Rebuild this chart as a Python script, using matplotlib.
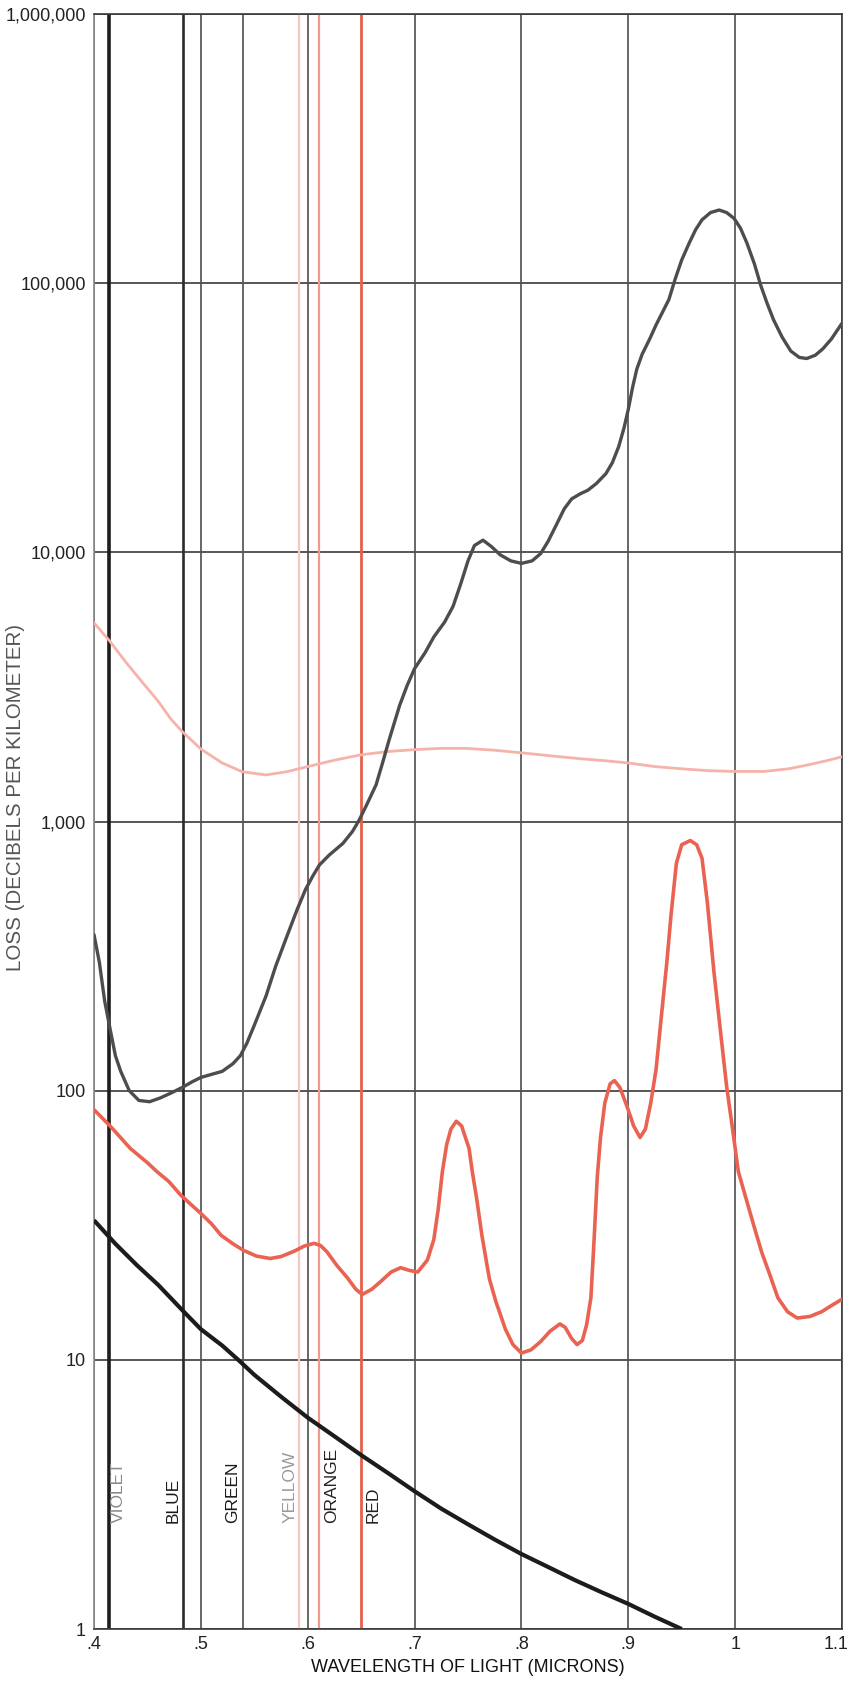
import matplotlib
matplotlib.use("Agg")
import matplotlib.pyplot as plt
import matplotlib.transforms as mtransforms
from matplotlib.ticker import FixedLocator, FixedFormatter

plt.rcParams['font.family'] = ['Liberation Sans', 'DejaVu Sans']

# ---- data ----
# dark gray curve (highest at the red end)
gray_x = [0.400, 0.405, 0.410, 0.415, 0.420, 0.425, 0.433, 0.442, 0.452, 0.462,
          0.472, 0.483, 0.492, 0.500, 0.510, 0.520, 0.530, 0.537, 0.543, 0.550,
          0.561, 0.570, 0.580, 0.590, 0.598, 0.605, 0.611, 0.620, 0.633, 0.642,
          0.648, 0.655, 0.664, 0.670, 0.676, 0.686, 0.693, 0.700, 0.710, 0.718,
          0.728, 0.736, 0.743, 0.750, 0.756, 0.764, 0.772, 0.780, 0.790, 0.800,
          0.810, 0.818, 0.825, 0.832, 0.840, 0.847, 0.855, 0.862, 0.870, 0.879,
          0.885, 0.891, 0.896, 0.900, 0.904, 0.908, 0.913, 0.920, 0.926, 0.932,
          0.938, 0.944, 0.950, 0.957, 0.963, 0.969, 0.977, 0.985, 0.992, 0.999,
          1.005, 1.011, 1.018, 1.024, 1.030, 1.036, 1.044, 1.052, 1.060, 1.067,
          1.075, 1.082, 1.090, 1.100]
gray_y = [380, 300, 215, 170, 135, 118, 100, 92, 91, 94,
          98, 103, 108, 112, 115, 118, 126, 135, 150, 175,
          225, 290, 370, 470, 560, 630, 690, 750, 830, 920,
          1010, 1150, 1370, 1650, 2000, 2700, 3200, 3700, 4250, 4850,
          5500, 6300, 7600, 9300, 10600, 11100, 10500, 9800, 9300, 9100,
          9300, 9900, 11000, 12500, 14500, 15800, 16500, 17000, 18000, 19600,
          21500, 24700, 29000, 34000, 41000, 48000, 54500, 62000, 70000, 78000,
          87000, 104000, 122000, 141000, 158000, 172000, 183000, 187000, 183000, 174000,
          160000, 141000, 118000, 98000, 84000, 73000, 63000, 56000, 53000, 52500,
          54000, 57000, 62000, 71000]

# light pink curve
pink_x = [0.400, 0.414, 0.430, 0.445, 0.460, 0.472, 0.483, 0.500, 0.520, 0.539,
          0.561, 0.580, 0.600, 0.625, 0.650, 0.675, 0.700, 0.725, 0.748, 0.775,
          0.800, 0.830, 0.856, 0.880, 0.900, 0.925, 0.950, 0.975, 1.000, 1.027,
          1.050, 1.067, 1.085, 1.100]
pink_y = [5470, 4720, 3900, 3300, 2800, 2400, 2150, 1860, 1650, 1530,
          1490, 1530, 1600, 1690, 1770, 1820, 1850, 1870, 1870, 1840,
          1800, 1750, 1710, 1680, 1650, 1600, 1570, 1545, 1535, 1535,
          1570, 1620, 1680, 1740]

# red curve with absorption peaks
red_x = [0.400, 0.415, 0.434, 0.450, 0.459, 0.470, 0.481, 0.490, 0.500, 0.510,
         0.519, 0.530, 0.540, 0.552, 0.565, 0.575, 0.587, 0.597, 0.606, 0.612,
         0.618, 0.627, 0.637, 0.645, 0.651, 0.660, 0.668, 0.678, 0.687, 0.695,
         0.703, 0.712, 0.718, 0.722, 0.726, 0.730, 0.734, 0.739, 0.744, 0.751,
         0.754, 0.758, 0.763, 0.770, 0.776, 0.785, 0.792, 0.800, 0.809, 0.818,
         0.827, 0.836, 0.841, 0.847, 0.852, 0.857, 0.861, 0.865, 0.868, 0.871,
         0.874, 0.878, 0.883, 0.887, 0.892, 0.899, 0.905, 0.911, 0.916, 0.921,
         0.926, 0.931, 0.936, 0.940, 0.945, 0.950, 0.958, 0.964, 0.969, 0.974,
         0.980, 0.986, 0.992, 0.998, 1.003, 1.010, 1.018, 1.025, 1.031, 1.040,
         1.049, 1.058, 1.070, 1.081, 1.090, 1.100]
red_y = [85, 74, 61, 54, 50, 46, 41, 38, 35, 32,
         29, 27, 25.5, 24.3, 23.8, 24.2, 25.3, 26.5, 27.1, 26.6,
         25.2, 22.5, 20.2, 18.3, 17.5, 18.3, 19.5, 21.2, 22.0, 21.5,
         21.2, 23.5, 28, 36, 50, 63, 72, 77, 74, 61,
         50, 40, 29, 20, 16.5, 13, 11.4, 10.6, 10.9, 11.7,
         12.8, 13.6, 13.2, 12.0, 11.4, 11.8, 13.5, 17, 28, 48,
         67, 90, 106, 109, 103, 87, 74, 67, 72, 90,
         120, 190, 298, 450, 700, 820, 850, 820, 730, 500,
         280, 170, 104, 70, 50, 40, 31, 25, 21.5, 17,
         15.1, 14.3, 14.5, 15.1, 15.9, 16.8]

# black scattering curve
black_x = [0.400, 0.420, 0.440, 0.460, 0.484, 0.500, 0.520, 0.535, 0.550, 0.575,
           0.600, 0.625, 0.651, 0.675, 0.700, 0.725, 0.750, 0.775, 0.800, 0.825,
           0.850, 0.875, 0.900, 0.925, 0.950]
black_y = [33, 27, 22.5, 19, 15.1, 13, 11.3, 10, 8.8, 7.3,
           6.1, 5.2, 4.4, 3.8, 3.25, 2.8, 2.45, 2.15, 1.9, 1.7,
           1.52, 1.37, 1.24, 1.11, 1.0]

# spectral colour marker lines (microns)
band_names = ["VIOLET", "BLUE", "GREEN", "YELLOW", "ORANGE", "RED"]
band_x = [0.414, 0.483, 0.539, 0.592, 0.611, 0.650]

y_ticks = [1, 10, 100, 1000, 10000, 100000, 1000000]
y_labels = ["1", "10", "100", "1,000", "10,000", "100,000", "1,000,000"]
x_ticks = [0.4, 0.5, 0.6, 0.7, 0.8, 0.9, 1.0, 1.1]
x_labels = [".4", ".5", ".6", ".7", ".8", ".9", "1", "1.1"]

# ---- styles ----
band_style = {
    "VIOLET": dict(color="#1e1e1e", lw=2.6, text="#8a8a8a", dx=0.0085),
    "BLUE":   dict(color="#2a2a2a", lw=1.9, text="#1a1a1a", dx=-0.0085),
    "GREEN":  dict(color="#5a5a5a", lw=1.3, text="#1a1a1a", dx=-0.0095),
    "YELLOW": dict(color="#f6c8c0", lw=1.6, text="#9a9a9a", dx=-0.0085),
    "ORANGE": dict(color="#f0988c", lw=1.6, text="#222222", dx=0.0115),
    "RED":    dict(color="#e6604c", lw=2.0, text="#222222", dx=0.0115),
}

fig = plt.figure(figsize=(8.5, 16.89), dpi=100)
ax = fig.add_axes([0.1106, 0.0355, 0.8800, 0.9562])

ax.set_yscale("log")
ax.set_xlim(0.4, 1.1)
ax.set_ylim(1, 1000000)

# grid
for yv in y_ticks:
    ax.axhline(yv, color="#3a3a3a", lw=1.2, zorder=1)
for xv in x_ticks:
    ax.axvline(xv, color="#4e4e4e", lw=1.2, zorder=1)

for name, xv in zip(band_names, band_x):
    st = band_style[name]
    ax.axvline(xv, color=st["color"], lw=st["lw"], zorder=2)
    ax.text(xv + st["dx"], 2.48, name, rotation=90, ha="center", va="bottom",
            fontsize=12.5, color=st["text"], zorder=3)

# curves
line_kw = dict(solid_joinstyle="round", solid_capstyle="round")
ax.plot(pink_x, pink_y, color="#f5b3aa", lw=2.0, zorder=4, **line_kw)
ax.plot(gray_x, gray_y, color="#4d4d4d", lw=2.4, zorder=5, **line_kw)
ax.plot(red_x, red_y, color="#ea6352", lw=2.6, zorder=5, **line_kw)
ax.plot(black_x, black_y, color="#1c1c1c", lw=3.0, zorder=6,
        solid_joinstyle="round", solid_capstyle="butt")

ax.yaxis.set_major_locator(FixedLocator(y_ticks))
ax.yaxis.set_major_formatter(FixedFormatter(y_labels))
ax.yaxis.set_minor_locator(FixedLocator([]))
ax.xaxis.set_major_locator(FixedLocator(x_ticks))
ax.xaxis.set_major_formatter(FixedFormatter(x_labels))
ax.tick_params(axis="both", length=0, labelsize=13, colors="#222222")
ax.tick_params(axis="y", pad=6)
ax.tick_params(axis="x", pad=5)

# keep the last x label inside the figure
last = ax.get_xticklabels()[-1]
last.set_transform(last.get_transform() +
                   mtransforms.ScaledTranslation(-6 / 100, 0, fig.dpi_scale_trans))

for side in ["top", "bottom", "right"]:
    ax.spines[side].set_color("#3a3a3a")
    ax.spines[side].set_linewidth(1.2)
ax.spines["left"].set_color("#8a8a8a")
ax.spines["left"].set_linewidth(1.2)

ax.set_xlabel("WAVELENGTH OF LIGHT (MICRONS)", fontsize=13, color="#111111",
              labelpad=4)
ax.set_ylabel("LOSS (DECIBELS PER KILOMETER)", fontsize=14.8, color="#555555")
ax.yaxis.set_label_coords(-0.092, 0.515)

fig.savefig("out.png", dpi=100, facecolor="white")
